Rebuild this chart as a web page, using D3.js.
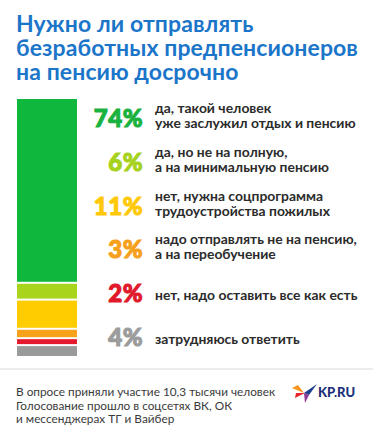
<!DOCTYPE html>
<html>
<head>
<meta charset="utf-8">
<script src="https://cdn.jsdelivr.net/npm/d3@7"></script>
<style>
  body { margin: 0; background: #fff; }
  svg { display: block; }
</style>
</head>
<body>
<div class="chart"></div>
<script>
// данные опроса
const titleLines = ['Нужно ли отправлять', 'безработных предпенсионеров', 'на пенсию досрочно']
const answers = [
    ['да, такой человек', 'уже заслужил отдых и пенсию'],
    ['да, но не на полную,', 'а на минимальную пенсию'],
    ['нет, нужна соцпрограмма', 'трудоустройства пожилых'],
    ['надо отправлять не на пенсию,', 'а на переобучение'],
    ['нет, надо оставить все как есть'],
    ['затрудняюсь ответить']
]
const values = [74, 6, 11, 3, 2, 4]
const colors = ['#0fb83c', '#a8d41c', '#ffcc00', '#f7a21b', '#e5192e', '#9a9a9a']
const pctColors = ['#19b23f', '#a6d21e', '#ffc90a', '#f6a01c', '#e0192c', '#9c9c9c']
const footLines = [
    'В опросе приняли участие 10,3 тысячи человек',
    'Голосование прошло в соцсетях ВК, ОК',
    'и мессенджерах ТГ и Вайбер'
]

const W = 373, H = 440
const gap = 2

let svg = d3.select('.chart').append('svg')
    .attr('width', W)
    .attr('height', H)

// несколько строк в одном text
let multiline = (sel, lines, x, y0, step) => {
    sel.selectAll('tspan')
        .data(lines)
        .join('tspan')
        .attr('x', x)
        .attr('y', (d, i) => y0 + i * step)
        .text(d => d)
}

// заголовок
svg.append('text')
    .style('font-family', 'Lato, sans-serif')
    .style('font-weight', 700)
    .style('font-size', '23px')
    .style('letter-spacing', '0.1px')
    .style('fill', '#1b75c9')
    .call(multiline, titleLines, 16, 32, 24)

// столбик
let total = d3.sum(values)
let barTop = 99, barBottom = 356
let y = d3.scaleLinear()
    .domain([0, total])
    .range([0, barBottom - barTop - gap * (values.length - 1)])

let starts = []
let acc = 0
values.forEach((v, i) => {
    starts.push(barTop + y(acc) + i * gap)
    acc += v
})

svg.append('g').selectAll('rect')
    .data(values)
    .join('rect')
    .attr('x', 17)
    .attr('y', (d, i) => starts[i])
    .attr('width', 60)
    .attr('height', d => y(d))
    .attr('fill', (d, i) => colors[i])

// строки с ответами
let rowY = d3.scalePoint()
    .domain(d3.range(answers.length))
    .range([127, 346])

let rows = svg.append('g').selectAll('g')
    .data(answers)
    .join('g')
    .attr('transform', (d, i) => `translate(0, ${rowY(i)})`)

rows.append('text')
    .attr('x', 143)
    .attr('text-anchor', 'end')
    .style('font-family', 'Lato, sans-serif')
    .style('font-weight', 900)
    .style('font-size', '24px')
    .style('letter-spacing', '0.5px')
    .style('fill', (d, i) => pctColors[i])
    .style('stroke', (d, i) => pctColors[i])
    .style('stroke-width', 1.1)
    .text((d, i) => values[i] + '%')

rows.each(function (d) {
    d3.select(this).append('text')
        .style('font-family', 'Lato, sans-serif')
        .style('font-weight', 700)
        .style('font-size', '13.9px')
        .style('fill', '#2b2b2b')
        .call(multiline, d, 155, d.length == 2 ? -14 : -2, 15)
})

// разделитель
svg.append('line')
    .attr('x1', 0).attr('x2', W)
    .attr('y1', 369).attr('y2', 369)
    .attr('stroke', '#e6e6e6')
    .attr('stroke-width', 1.5)

// подпись
svg.append('text')
    .style('font-family', 'Lato, sans-serif')
    .style('font-size', '11.8px')
    .style('fill', '#3a3a3a')
    .call(multiline, footLines, 16, 396, 13.5)

// логотип
let logo = svg.append('g').attr('transform', 'translate(292, 384)')
logo.append('path').attr('d', 'M0,4 L12,9 L6,1 Z').attr('fill', '#f7941d')
logo.append('path').attr('d', 'M3,14 L13,9 L4,9 Z').attr('fill', '#e5262d')
logo.append('path').attr('d', 'M12,9 L25,0 L17,11 Z').attr('fill', '#1d3f8f')
logo.append('path').attr('d', 'M12,9 L17,11 L13,19 Z').attr('fill', '#8e3a94')
logo.append('text')
    .attr('x', 26)
    .attr('y', 13)
    .style('font-family', 'Lato, sans-serif')
    .style('font-weight', 900)
    .style('font-size', '13px')
    .style('fill', '#1c2f78')
    .text('KP.RU')
</script>
</body>
</html>
